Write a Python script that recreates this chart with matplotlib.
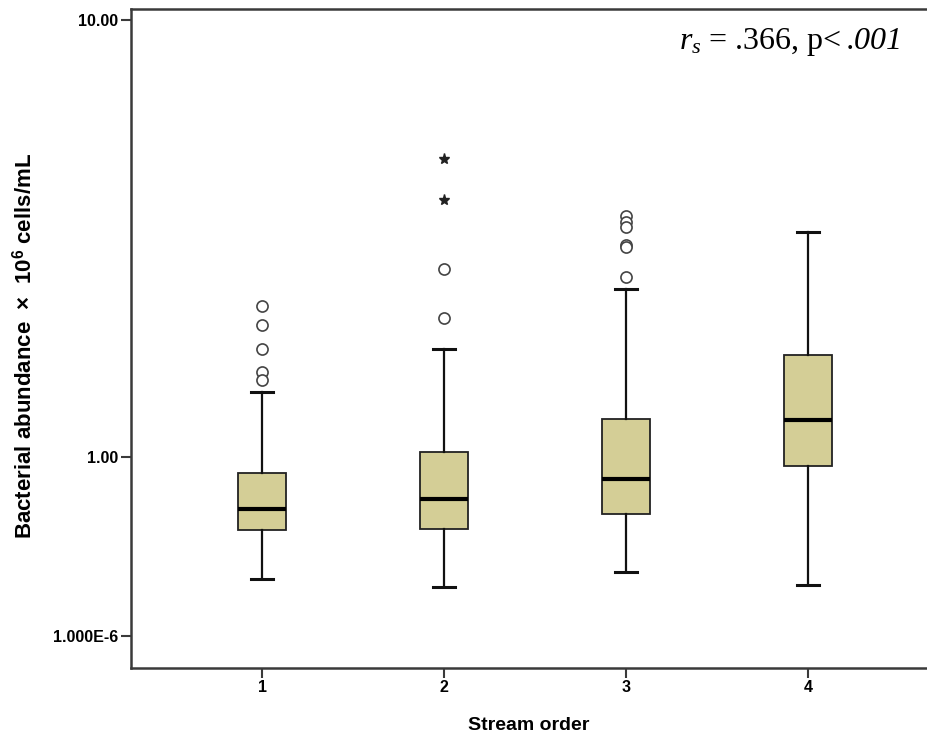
import matplotlib.pyplot as plt
from matplotlib.transforms import offset_copy

# values (x 10^6 cells/mL)
orders = [1, 2, 3, 4]
q1 = [0.681, 0.684, 0.741, 0.954]
median = [0.760, 0.801, 0.890, 1.215]
q3 = [0.919, 1.027, 1.22, 1.71]
whisker_low = [0.526, 0.504, 0.545, 0.509]
whisker_high = [1.41, 1.77, 2.42, 3.27]
outliers = [
    [2.22, 2.01, 1.77, 1.565, 1.50],
    [2.69, 2.08],
    [3.56, 3.45, 3.36, 3.06, 3.02, 2.58],
    [],
]
extremes = [[], [4.81, 3.87], [], []]

y_ticks = [10.0, 1.0, 0.39]
y_tick_labels = ["10.00", "1.00", "1.000E-6"]

box_color = "#d4ce96"
spine_color = "#3a3a3a"

plt.rcParams["mathtext.fontset"] = "custom"
plt.rcParams["mathtext.rm"] = "Liberation Serif"
plt.rcParams["mathtext.it"] = "Liberation Serif:italic"
plt.rcParams["mathtext.bf"] = "Liberation Sans:bold"

fig = plt.figure(figsize=(9.28, 7.44), dpi=100)
ax = fig.add_axes([0.1412, 0.1022, 0.8588, 0.8857])

stats = []
for i in range(len(orders)):
    stats.append(dict(med=median[i], q1=q1[i], q3=q3[i],
                      whislo=whisker_low[i], whishi=whisker_high[i],
                      fliers=outliers[i]))

ax.bxp(stats, positions=orders, widths=0.26, patch_artist=True,
       boxprops=dict(facecolor=box_color, edgecolor="#222222", linewidth=1.3),
       medianprops=dict(color="black", linewidth=3),
       whiskerprops=dict(color="#111111", linewidth=1.6),
       capprops=dict(color="#111111", linewidth=2.2),
       capwidths=0.12,
       flierprops=dict(marker="o", markersize=8, markerfacecolor="white",
                       markeredgecolor="#444444", markeredgewidth=1.2))

for pos, vals in zip(orders, extremes):
    if vals:
        ax.plot([pos] * len(vals), vals, linestyle="none", marker="*",
                markersize=8, color="#222222")

ax.set_yscale("log")
ax.set_xlim(0.28, 4.659)
ax.set_ylim(0.329, 10.6)

ax.set_yticks(y_ticks)
ax.set_yticklabels(y_tick_labels)
ax.yaxis.set_minor_locator(plt.NullLocator())
ax.set_xticks(orders)
ax.set_xticklabels([str(o) for o in orders])

for lab in ax.get_xticklabels() + ax.get_yticklabels():
    lab.set_fontfamily("Liberation Sans")
    lab.set_fontweight("bold")
    lab.set_fontsize(11.5)

ax.tick_params(axis="both", direction="out", length=7, width=1.5,
               color=spine_color, pad=2)

for side in ["left", "bottom", "top"]:
    ax.spines[side].set_color(spine_color)
    ax.spines[side].set_linewidth(1.8)
ax.spines["right"].set_visible(False)

fig.text(0.570, 0.014, "Stream order", ha="center", va="bottom",
         fontfamily="Liberation Sans", fontweight="bold", fontsize=14)
fig.text(0.026, 0.535, "Bacterial abundance  \u00d7  10$^{\\mathbf{6}}$ cells/mL",
         rotation=90, ha="center", va="center",
         fontfamily="Liberation Sans", fontweight="bold", fontsize=16)

# statistic: italic ".001" at the right, the rest placed just left of it
t_p = ax.text(0.9686, 0.94, ".001", transform=ax.transAxes,
              ha="right", va="baseline", fontfamily="Liberation Serif",
              fontstyle="italic", fontsize=23)
renderer = fig.canvas.get_renderer()
w = t_p.get_window_extent(renderer).width
ax.text(0.9686, 0.94, r"$r_s$ = .366, p< ",
        transform=offset_copy(ax.transAxes, fig=fig, x=-w - 4, y=0, units="dots"),
        ha="right", va="baseline", fontfamily="Liberation Serif", fontsize=23)

plt.savefig("out.png", dpi=100)
